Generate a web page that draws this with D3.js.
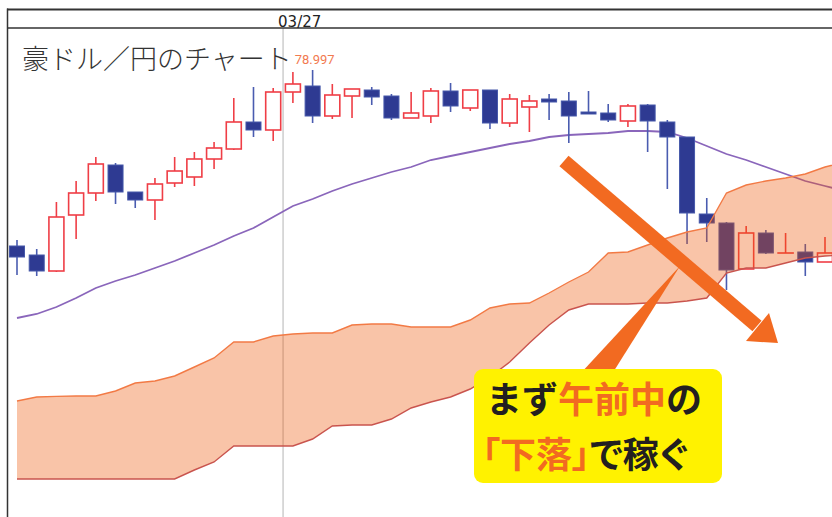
<!DOCTYPE html>
<html><head><meta charset="utf-8">
<script src="https://cdn.jsdelivr.net/npm/d3@7"></script>
<style>body{margin:0;background:#fff}svg{display:block}.palt{font-feature-settings:"palt" 1}</style>
</head><body><svg id="c" width="832" height="517"></svg>
<script>
// ---- data ----
const open =[78.117,78.072,77.992,78.272,78.382,78.522,78.387,78.347,78.432,78.462,78.552,78.602,78.737,78.697,78.887,78.917,78.767,78.867,78.897,78.867,78.757,78.767,78.892,78.807,78.897,78.732,78.812,78.852,78.842,78.787,78.782,78.742,78.822,78.737,78.662,78.277,78.232,78.002,78.182,78.082,78.087,78.037];
const high =[78.147,78.102,78.337,78.442,78.562,78.532,78.387,78.457,78.562,78.587,78.637,78.857,78.912,78.907,78.987,78.997,78.927,78.902,78.912,78.877,78.887,78.907,78.932,78.897,78.897,78.877,78.872,78.877,78.887,78.892,78.827,78.827,78.827,78.747,78.662,78.357,78.237,78.217,78.197,78.182,78.127,78.162];
const low  =[77.972,77.967,77.987,78.152,78.342,78.327,78.307,78.247,78.412,78.417,78.502,78.597,78.662,78.642,78.832,78.732,78.752,78.757,78.822,78.747,78.757,78.732,78.787,78.792,78.702,78.712,78.687,78.747,78.632,78.777,78.737,78.712,78.587,78.402,78.127,78.137,77.897,78.002,78.077,78.082,77.967,78.037];
const close=[78.062,77.992,78.262,78.382,78.527,78.387,78.347,78.427,78.492,78.552,78.607,78.737,78.697,78.887,78.927,78.767,78.872,78.902,78.862,78.757,78.782,78.892,78.817,78.897,78.732,78.852,78.842,78.837,78.767,78.777,78.747,78.817,78.742,78.662,78.282,78.232,77.997,78.182,78.082,78.082,78.037,78.082];
const movingAvg=[77.757,77.777,77.812,77.857,77.907,77.942,77.972,78.007,78.042,78.082,78.122,78.167,78.207,78.262,78.317,78.352,78.392,78.427,78.457,78.487,78.512,78.547,78.567,78.587,78.607,78.627,78.642,78.662,78.672,78.677,78.682,78.692,78.692,78.687,78.657,78.617,78.577,78.547,78.512,78.477,78.442,78.417,78.392];
const spanUpper=[77.342,77.362,77.365,77.367,77.367,77.392,77.432,77.442,77.467,77.512,77.557,77.637,77.637,77.667,77.677,77.682,77.682,77.722,77.727,77.727,77.712,77.712,77.712,77.747,77.807,77.827,77.832,77.882,77.937,77.987,78.082,78.087,78.122,78.157,78.187,78.207,78.382,78.422,78.442,78.457,78.477,78.512,78.537];
const spanLower=[76.952,76.952,76.952,76.952,76.952,76.952,76.952,76.952,76.952,76.997,77.037,77.117,77.117,77.117,77.117,77.152,77.217,77.222,77.222,77.252,77.307,77.337,77.362,77.402,77.462,77.537,77.632,77.722,77.797,77.827,77.827,77.827,77.832,77.832,77.842,77.857,77.982,78.007,78.007,78.032,78.057,78.067,78.072];
const dateTickLabels=["03/27"];
const dateTickIndex=[13.5];
const highLabel="78.997";
const highIndex=15;
const titleText="豪ドル／円のチャート";
const calloutLine1=[["まず","#231f20"],["午前中","#f26a21"],["の","#231f20"]];
const calloutLine2=[["「下落」","#f26a21"],["で稼ぐ","#231f20"]];

// ---- layout ----
const svg=d3.select("#c");
const plot={left:8,top:28,right:832,bottom:517};
const x=d3.scaleLinear().domain([0,41]).range([17,825]);
const y=d3.scaleLinear().domain([76.762,79.207]).range([517,28]);
const bodyW=15;
const RED="#ef3e46", BLUE="#2e3a92";

svg.append("defs").append("clipPath").attr("id","clip").append("rect")
  .attr("x",plot.left).attr("y",plot.top).attr("width",plot.right-plot.left).attr("height",plot.bottom-plot.top);

const g=svg.append("g").attr("clip-path","url(#clip)");

// date separator line
g.selectAll(".vl").data(dateTickIndex).join("line")
  .attr("x1",d=>x(d)).attr("x2",d=>x(d)).attr("y1",plot.top).attr("y2",plot.bottom)
  .attr("stroke","#b4b4b4").attr("stroke-width",1);

// moving average
g.append("path").datum(movingAvg)
  .attr("d",d3.line().x((d,i)=>x(i)).y(d=>y(d)))
  .attr("fill","none").attr("stroke","#8a66bb").attr("stroke-width",1.8);

// candles
const candles=open.map((o,i)=>({i,o,h:high[i],l:low[i],c:close[i],up:close[i]>=o}));
const cg=g.append("g");
cg.selectAll("line.w").data(candles).join("line")
  .attr("x1",d=>x(d.i)).attr("x2",d=>x(d.i)).attr("y1",d=>y(d.h)).attr("y2",d=>y(d.l))
  .attr("stroke",d=>d.up?RED:"#4a5cb0").attr("stroke-width",1.6);
cg.selectAll("rect").data(candles).join("rect")
  .attr("x",d=>x(d.i)-bodyW/2)
  .attr("y",d=>y(Math.max(d.o,d.c)))
  .attr("width",bodyW)
  .attr("height",d=>Math.max(0.01,Math.abs(y(d.o)-y(d.c))))
  .attr("fill",d=>d.up?"#fff":BLUE)
  .attr("stroke",d=>d.up?RED:"#4658aa")
  .attr("stroke-width",d=>d.up?1.6:1);

// cloud
g.append("path").datum(spanUpper)
  .attr("d",d3.area().x((d,i)=>x(i)).y1(d=>y(d)).y0((d,i)=>y(spanLower[i])))
  .attr("fill","rgb(237,86,6)").attr("fill-opacity",0.35);
g.append("path").datum(spanUpper)
  .attr("d",d3.line().x((d,i)=>x(i)).y(d=>y(d)))
  .attr("fill","none").attr("stroke","#f27a45").attr("stroke-width",1.4);
g.append("path").datum(spanLower)
  .attr("d",d3.line().x((d,i)=>x(i)).y(d=>y(d)))
  .attr("fill","none").attr("stroke","#c9544e").attr("stroke-width",1.4);

// frame
svg.append("line").attr("x1",7).attr("x2",832).attr("y1",9.5).attr("y2",9.5).attr("stroke","#333").attr("stroke-width",2);
svg.append("line").attr("x1",7).attr("x2",832).attr("y1",28).attr("y2",28).attr("stroke","#333").attr("stroke-width",1.3);
svg.append("line").attr("x1",7.5).attr("x2",7.5).attr("y1",8.5).attr("y2",517).attr("stroke","#333").attr("stroke-width",1.5);

// date tick label
svg.selectAll(".dt").data(dateTickLabels).join("text")
  .attr("x",(d,i)=>x(dateTickIndex[i])-5).attr("y",27)
  .attr("font-family","DejaVu Sans").attr("font-size",15).attr("fill","#222").text(d=>d);

// high label
svg.append("text").attr("x",x(highIndex)+2).attr("y",y(high[highIndex])-6)
  .attr("text-anchor","middle").attr("font-family","Roboto").attr("font-size",13)
  .attr("fill","#f27a50").text(highLabel);

// title
svg.append("text").attr("x",22).attr("y",69)
  .attr("font-family","Noto Sans CJK JP").attr("font-weight",300).attr("font-size",27)
  .attr("fill","#333").text(titleText);

// arrow
const arrowColor="#f26a21";
svg.append("line").attr("x1",564).attr("y1",161).attr("x2",757).attr("y2",326)
  .attr("stroke",arrowColor).attr("stroke-width",14);
svg.append("polygon").attr("points","778,343 746,341 769,313").attr("fill",arrowColor);

// callout
svg.append("polygon").attr("points","580,374 612,374 680,266").attr("fill",arrowColor);
svg.append("rect").attr("x",474).attr("y",369).attr("width",248).attr("height",114).attr("rx",9)
  .attr("fill","#fff200");
const t1=svg.append("text").attr("x",486).attr("y",413)
  .attr("font-family","Noto Sans CJK JP").attr("font-weight",700).attr("font-size",36);
t1.selectAll("tspan").data(calloutLine1).join("tspan").attr("fill",d=>d[1]).text(d=>d[0]);
const t2=svg.append("text").attr("class","palt").attr("x",482).attr("y",468)
  .attr("font-family","Noto Sans CJK JP").attr("font-weight",700).attr("font-size",36);
t2.selectAll("tspan").data(calloutLine2).join("tspan").attr("fill",d=>d[1]).text(d=>d[0]);
</script></body></html>
